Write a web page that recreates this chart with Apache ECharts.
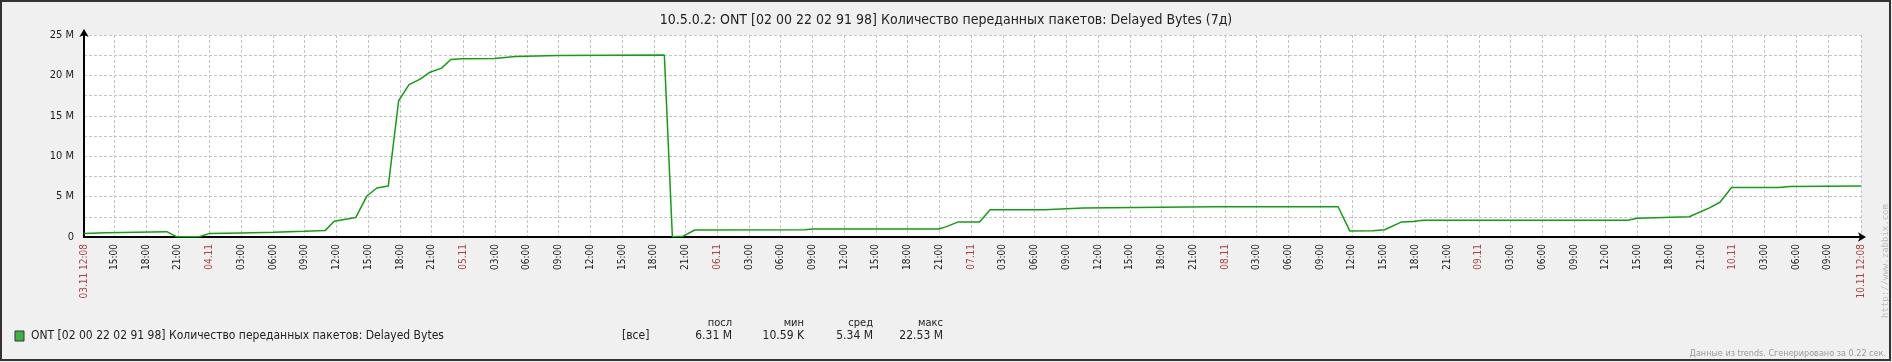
<!DOCTYPE html>
<html><head><meta charset="utf-8">
<script src="https://cdn.jsdelivr.net/npm/echarts@6/dist/echarts.min.js"></script>
<style>html,body{margin:0;padding:0;background:#f0f0f0;}#c{width:1892px;height:362px;}</style>
</head><body><div id="c"></div>
<script>
// ---- data ----
const titleText = '10.5.0.2: ONT [02 00 22 02 91 98] Количество переданных пакетов: Delayed Bytes (7д)';
const seriesName = 'ONT [02 00 22 02 91 98] Количество переданных пакетов: Delayed Bytes';
// time of each point, hours since 03.11 00:00
const hours = [12.13, 14.16, 19.96, 20.87, 23.04, 23.95, 27.03, 30.03, 33.00, 34.92,
  35.79, 37.82, 38.87, 39.82, 40.90, 41.88, 42.86, 43.87, 44.78, 45.94,
  46.81, 47.86, 50.94, 52.93, 56.92, 67.00, 67.76, 68.78, 69.88, 80.3,
  81.0, 92.94, 93.6, 94.8, 96.8, 97.8, 102.9, 106.6, 119.0, 130.7,
  131.8, 134.0, 135.1, 136.7, 137.8, 138.7, 158.05, 159.0, 163.9, 165.8,
  166.8, 167.9, 172.3, 173.4, 180.13];
// Delayed Bytes, millions
const valuesM = [0.42, 0.54, 0.66, 0.04, 0.04, 0.42, 0.50, 0.58, 0.70, 0.79,
  1.95, 2.40, 5.07, 6.06, 6.30, 16.86, 18.85, 19.50, 20.35, 20.90,
  21.97, 22.05, 22.10, 22.34, 22.47, 22.53, 0.04, 0.10, 0.87, 0.90,
  0.98, 0.98, 1.25, 1.87, 1.87, 3.37, 3.37, 3.60, 3.75, 3.75,
  0.75, 0.78, 0.90, 1.87, 1.92, 2.08, 2.08, 2.33, 2.50, 3.60,
  4.30, 6.12, 6.12, 6.25, 6.31];
const startHour = 12 + 8 / 60;
const endHour = 168 + 12 + 8 / 60;
const startLabel = '03.11 12:08';
const endLabel = '10.11 12:08';
const firstDay = 3, month = '11';
const yLabelStep = 5, yGridStep = 2.5, yMax = 25;
const statHeaders = ['посл', 'мин', 'сред', 'макс'];
const statValues = ['6.31 M', '10.59 K', '5.34 M', '22.53 M'];
const statScope = '[все]';
const footerText = 'Данные из trends. Сгенерировано за 0.22 сек.';
const watermark = 'http://www.zabbix.com';

// ---- derived ----
const xTicks = [startHour];
for (let h = 15; h < endHour - 1; h += 3) xTicks.push(h);
xTicks.push(endHour);
const pad = n => (n < 10 ? '0' : '') + n;
function xLabel(v) {
  if (Math.abs(v - startHour) < 1e-6) return '{r|' + startLabel + '}';
  if (Math.abs(v - endHour) < 1e-6) return '{r|' + endLabel + '}';
  const h = Math.round(v);
  if (h % 24 === 0) return '{r|' + pad(firstDay + h / 24) + '.' + month + '}';
  return '{n|' + pad(h % 24) + ':00}';
}
const lineData = hours.map((h, i) => [h, valuesM[i]]);

const FONT = "'DejaVu Sans Condensed','DejaVu Sans',sans-serif";
const NARROW = "'Liberation Sans Narrow','DejaVu Sans Condensed',sans-serif";

const chart = echarts.init(document.getElementById('c'), null, {renderer: 'canvas'});
const statRight = [732, 804, 873, 943];
const graphics = [
  {type: 'rect', shape: {x: 1, y: 1, width: 1889, height: 359}, style: {fill: 'none', stroke: '#333', lineWidth: 2}, z: 100},
  {type: 'rect', shape: {x: 15, y: 331, width: 9, height: 10}, style: {fill: '#3fb33f', stroke: '#333', lineWidth: 1}},
  {type: 'text', x: 31, y: 336, style: {text: seriesName, font: '12px ' + NARROW, fill: '#222', verticalAlign: 'middle'}},
  {type: 'text', x: 622, y: 336, style: {text: statScope, font: '12px ' + NARROW, fill: '#222', verticalAlign: 'middle'}},
  {type: 'text', x: 1886, y: 354, style: {text: footerText, font: '9px ' + FONT, fill: '#9a9a9a', align: 'right', verticalAlign: 'middle'}},
  {type: 'text', x: 1886, y: 261, rotation: Math.PI / 2, style: {text: watermark, font: '9px "DejaVu Sans Mono",monospace', fill: '#bdbdbd', align: 'center', verticalAlign: 'middle'}}
];
statHeaders.forEach((t, i) => graphics.push({type: 'text', x: statRight[i], y: 323, style: {text: t, font: '11px ' + NARROW, fill: '#222', align: 'right', verticalAlign: 'middle'}}));
statValues.forEach((t, i) => graphics.push({type: 'text', x: statRight[i], y: 336, style: {text: t, font: '12px ' + NARROW, fill: '#222', align: 'right', verticalAlign: 'middle'}}));

chart.setOption({
  backgroundColor: '#f0f0f0',
  animation: false,
  title: {text: titleText, left: 'center', top: 8,
    textStyle: {fontFamily: NARROW, fontSize: 14, fontWeight: 'normal', color: '#222'}},
  grid: {left: 84, right: 31, top: 35, bottom: 125, show: true, backgroundColor: '#fff', borderWidth: 0},
  xAxis: {
    type: 'value', min: startHour, max: endHour,
    axisLine: {show: true, onZero: false, lineStyle: {color: '#000', width: 2}, symbol: ['none', 'arrow'], symbolSize: [7, 8], symbolOffset: [0, 5]},
    axisTick: {show: false, customValues: xTicks},
    axisLabel: {customValues: xTicks, rotate: 90, margin: 7, formatter: xLabel,
      rich: {r: {color: '#a84444', fontSize: 10, fontFamily: FONT}, n: {color: '#222', fontSize: 10, fontFamily: FONT}}},
    splitLine: {show: true, lineStyle: {color: '#c4c4c4', type: [3, 2], width: 1}}
  },
  yAxis: {
    type: 'value', min: 0, max: yMax, interval: yGridStep,
    axisLine: {show: true, lineStyle: {color: '#000', width: 2}, symbol: ['none', 'arrow'], symbolSize: [7, 8], symbolOffset: [0, 6]},
    axisTick: {show: false},
    axisLabel: {margin: 10, color: '#222', fontSize: 11, fontFamily: FONT,
      formatter: v => (Math.abs(v / yLabelStep - Math.round(v / yLabelStep)) < 1e-6 ? (v === 0 ? '0' : v + ' M') : '')},
    splitLine: {show: true, lineStyle: {color: '#c4c4c4', type: [3, 2], width: 1}}
  },
  series: [{
    name: seriesName, type: 'line', data: lineData, showSymbol: false, symbol: 'none',
    lineStyle: {color: '#119e11', width: 1.5}, z: 5
  }],
  graphic: graphics
});
</script>
</body></html>
